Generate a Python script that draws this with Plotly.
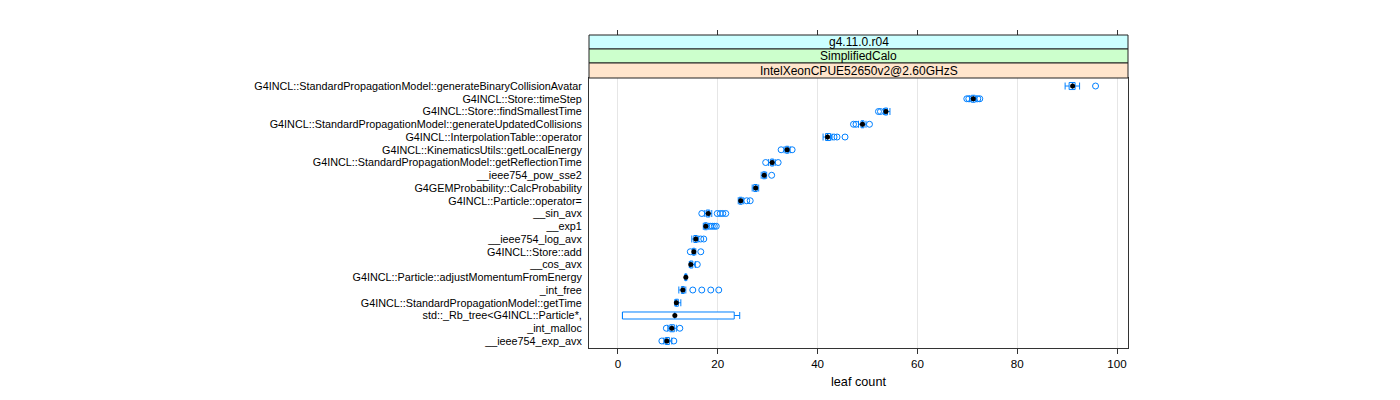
import plotly.graph_objects as go

categories = [
    "G4INCL::StandardPropagationModel::generateBinaryCollisionAvatar",
    "G4INCL::Store::timeStep",
    "G4INCL::Store::findSmallestTime",
    "G4INCL::StandardPropagationModel::generateUpdatedCollisions",
    "G4INCL::InterpolationTable::operator",
    "G4INCL::KinematicsUtils::getLocalEnergy",
    "G4INCL::StandardPropagationModel::getReflectionTime",
    "__ieee754_pow_sse2",
    "G4GEMProbability::CalcProbability",
    "G4INCL::Particle::operator=",
    "__sin_avx",
    "__exp1",
    "__ieee754_log_avx",
    "G4INCL::Store::add",
    "__cos_avx",
    "G4INCL::Particle::adjustMomentumFromEnergy",
    "_int_free",
    "G4INCL::StandardPropagationModel::getTime",
    "std::_Rb_tree<G4INCL::Particle*,",
    "_int_malloc",
    "__ieee754_exp_avx",
]

lower_whisker = [89.6, 70.5, 53.2, 48.2, 41.1, 33.3, 30.2, 28.7, 26.9, 24.1, 17.4, 17.1, 14.8, 14.9, 14.3, 13.4, 12.2, 11.4, 0.9, 10.0, 9.2]
q1 = [90.4, 70.8, 53.4, 48.7, 41.6, 33.6, 30.6, 29.0, 27.2, 24.3, 17.7, 17.3, 15.2, 15.0, 14.4, 13.5, 12.7, 11.5, 0.9, 10.4, 9.5]
median = [91.1, 71.2, 53.7, 49.0, 42.0, 33.9, 30.9, 29.3, 27.6, 24.6, 18.1, 17.6, 15.6, 15.2, 14.6, 13.6, 13.0, 11.7, 11.4, 10.8, 9.8]
q3 = [91.6, 71.6, 54.0, 49.3, 42.6, 34.2, 31.2, 29.6, 27.9, 24.9, 18.4, 17.9, 15.9, 15.4, 15.0, 13.7, 13.3, 12.1, 23.3, 11.3, 10.3]
upper_whisker = [92.5, 71.9, 54.5, 49.7, 42.9, 34.5, 31.5, 29.8, 28.2, 25.2, 18.8, 18.2, 16.2, 15.6, 15.5, 13.8, 13.6, 12.6, 24.4, 11.7, 10.8]
outliers = [
    [95.7],
    [69.9, 70.3, 72.1, 72.5],
    [52.2, 52.6],
    [47.2, 47.7, 50.4],
    [43.3, 43.9, 45.5],
    [32.7, 34.9],
    [29.6, 32.1],
    [30.8],
    [],
    [25.8, 26.5],
    [16.8, 19.9, 20.5, 21.0, 21.6],
    [18.5, 18.9, 19.3, 19.7],
    [16.6, 17.2],
    [14.5, 16.6],
    [15.9],
    [],
    [15.0, 16.8, 18.6, 20.2],
    [],
    [],
    [9.7, 12.4],
    [8.8, 11.2],
]

strip_labels = ["g4.11.0.r04", "SimplifiedCalo", "IntelXeonCPUE52650v2@2.60GHzS"]
strip_colors = ["#ccffff", "#ccffcc", "#ffe5cc"]
x_ticks = [0, 20, 40, 60, 80, 100]
x_title = "leaf count"

BLUE = "#0080ff"
W, H = 1400, 400
px_l, px_r = 589, 1128
px_top, px_bot = 78, 348
x_range = [-5.8, 102.2]
y_range = [20.55, -0.63]
FONT = "Liberation Sans, Arial, Helvetica, sans-serif"

fig = go.Figure()

fig.add_trace(go.Box(
    y=categories, q1=q1, median=median, q3=q3,
    lowerfence=lower_whisker, upperfence=upper_whisker,
    orientation="h", width=0.55, whiskerwidth=1,
    line=dict(color=BLUE, width=1), fillcolor="white",
    boxpoints=False, hoverinfo="skip", showlegend=False,
))

ox, oy = [], []
for c, lst in zip(categories, outliers):
    for v in lst:
        ox.append(v)
        oy.append(c)
fig.add_trace(go.Scatter(
    x=ox, y=oy, mode="markers",
    marker=dict(symbol="circle-open", size=6, color=BLUE, line=dict(width=1, color=BLUE)),
    showlegend=False, hoverinfo="skip",
))

fig.add_trace(go.Scatter(
    x=median, y=categories, mode="markers",
    marker=dict(symbol="circle", size=5, color="black"),
    showlegend=False, hoverinfo="skip",
))

# invisible trace for top tick axis
fig.add_trace(go.Scatter(x=x_ticks, y=[categories[0]] * len(x_ticks), xaxis="x2",
                         mode="markers", marker=dict(opacity=0), showlegend=False, hoverinfo="skip"))

dom_x = [px_l / W, px_r / W]
dom_y = [(H - px_bot) / H, (H - px_top) / H]

fig.update_layout(
    width=W, height=H,
    margin=dict(l=0, r=0, t=0, b=0),
    paper_bgcolor="white", plot_bgcolor="white",
    font=dict(family=FONT, size=10.8, color="black"),
    xaxis=dict(
        domain=dom_x, range=x_range, tickvals=x_ticks,
        showgrid=True, gridcolor="#e6e6e6", gridwidth=1, zeroline=False,
        ticks="outside", ticklen=5, tickcolor="#333333",
        showline=True, linecolor="#333333", linewidth=1, mirror=True,
        tickfont=dict(size=11.6), title=dict(text=x_title, font=dict(size=12.7), standoff=8),
    ),
    xaxis2=dict(
        domain=dom_x, range=x_range, tickvals=x_ticks, overlaying="x",
        anchor="free", position=(H - 35) / H, side="top",
        showticklabels=False, ticks="outside", ticklen=5, tickcolor="#333333",
        showgrid=False, zeroline=False, showline=False,
    ),
    yaxis=dict(
        domain=dom_y, type="category", categoryorder="array", categoryarray=categories,
        tickmode="array", tickvals=categories, ticktext=categories,
        range=y_range, showgrid=False, zeroline=False,
        ticks="outside", ticklen=4, tickcolor="rgba(0,0,0,0)",
        showline=True, linecolor="#333333", linewidth=1, mirror=True,
        tickfont=dict(size=10.8),
    ),
)

strip_edges = [35, 49, 63, 78]
for i, (lab, col) in enumerate(zip(strip_labels, strip_colors)):
    y0 = (H - strip_edges[i + 1]) / H
    y1 = (H - strip_edges[i]) / H
    fig.add_shape(type="rect", xref="paper", yref="paper",
                  x0=dom_x[0], x1=dom_x[1], y0=y0, y1=y1,
                  fillcolor=col, line=dict(color="#222222", width=1), layer="above")
    fig.add_annotation(xref="paper", yref="paper", x=(dom_x[0] + dom_x[1]) / 2, y=(y0 + y1) / 2,
                       text=lab, showarrow=False, font=dict(size=12, color="black"),
                       xanchor="center", yanchor="middle")

fig.write_html("out.html", config={"displayModeBar": False},
               post_script="document.body.style.margin='0';")
